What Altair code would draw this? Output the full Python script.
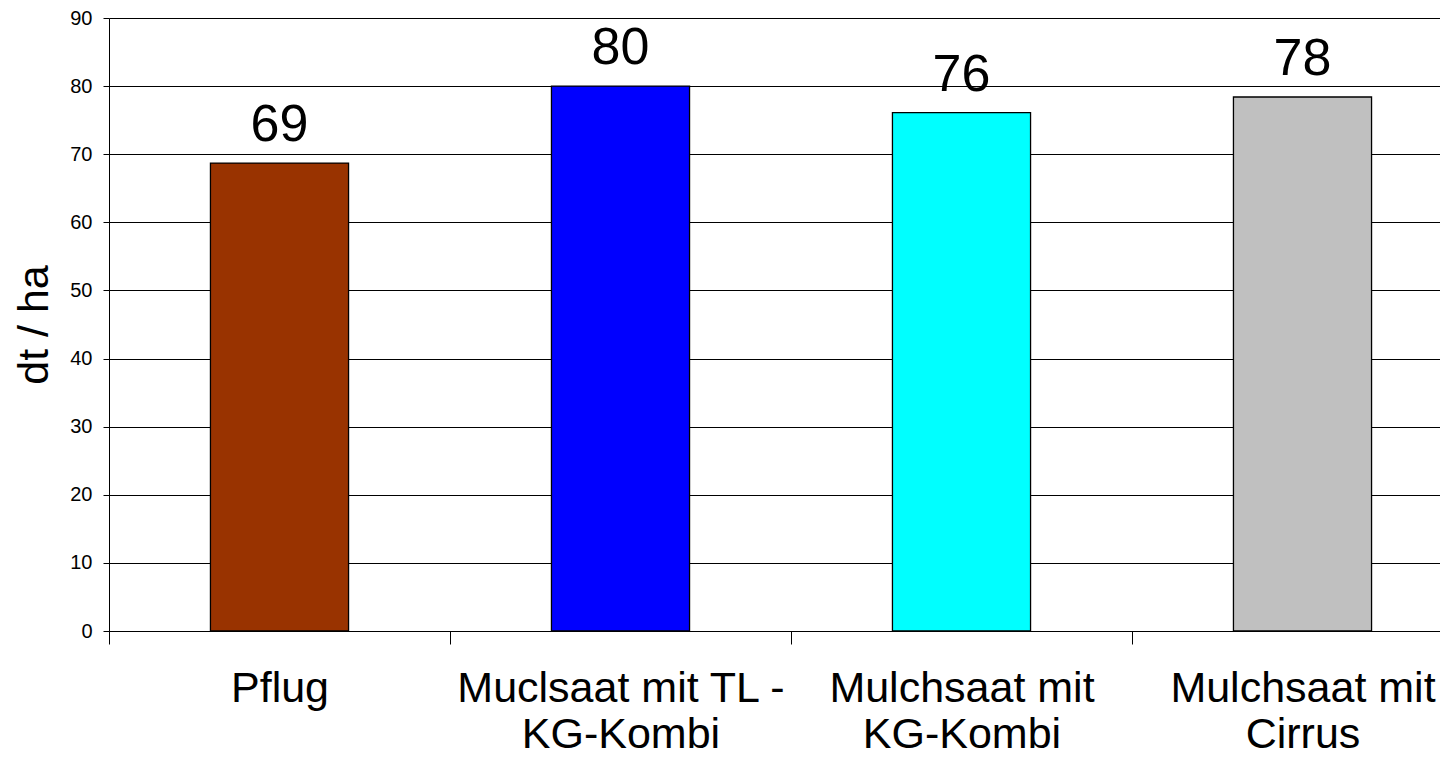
import altair as alt
import pandas as pd

categories = ["Pflug", "Muclsaat mit TL -\nKG-Kombi", "Mulchsaat mit\nKG-Kombi", "Mulchsaat mit\nCirrus"]
values = [68.7, 80.0, 76.1, 78.4]
colors = ["#993300", "#0000FF", "#00FFFF", "#C0C0C0"]
y_ticks = [0, 10, 20, 30, 40, 50, 60, 70, 80, 90]

df = pd.DataFrame({"cat": categories, "val": values, "color": colors})

FONT = "Liberation Sans"

x_enc = alt.X(
    "cat:N",
    sort=categories,
    scale=alt.Scale(range=[0, 1364], paddingInner=0, paddingOuter=0),
    axis=alt.Axis(
        title=None,
        labelExpr="split(datum.label, '\\n')",
        labelAngle=0,
        labelFont=FONT,
        labelFontSize=43,
        labelLineHeight=46,
        labelColor="black",
        labelPadding=23,
        tickBand="extent",
        tickSize=13,
        tickColor="black",
        domainColor="black",
        grid=False,
        labelLimit=1000,
    ),
)

y_enc = alt.Y(
    "val:Q",
    scale=alt.Scale(domain=[0, 90], nice=False),
    axis=alt.Axis(
        values=y_ticks,
        title="dt / ha",
        titleFont=FONT,
        titleFontSize=43,
        titleFontWeight="normal",
        titleColor="black",
        titlePadding=13,
        labelFont=FONT,
        labelFontSize=20,
        labelColor="black",
        labelPadding=11,
        tickSize=6,
        tickColor="black",
        domainColor="black",
        grid=True,
        gridColor="black",
        gridWidth=1,
    ),
)

bars = alt.Chart(df).mark_bar(
    width=alt.RelativeBandSize(0.405), stroke="black", strokeWidth=1.3
).encode(
    x=x_enc,
    y=y_enc,
    color=alt.Color("color:N", scale=None),
)

labels = alt.Chart(df).mark_text(
    baseline="alphabetic", dy=-22, fontSize=52, font=FONT, color="black"
).encode(
    x=alt.X("cat:N", sort=categories),
    y=alt.Y("val:Q"),
    text=alt.Text("val:Q", format=".0f"),
)

chart = alt.layer(bars, labels).properties(
    width=1331,
    height=613,
    autosize=alt.AutoSizeParams(type="none"),
    padding={"left": 101, "top": 10, "right": 0, "bottom": 126},
    background="white",
).configure_view(stroke="transparent")

chart.save("out.html", embed_options={"renderer": "svg", "actions": False})
